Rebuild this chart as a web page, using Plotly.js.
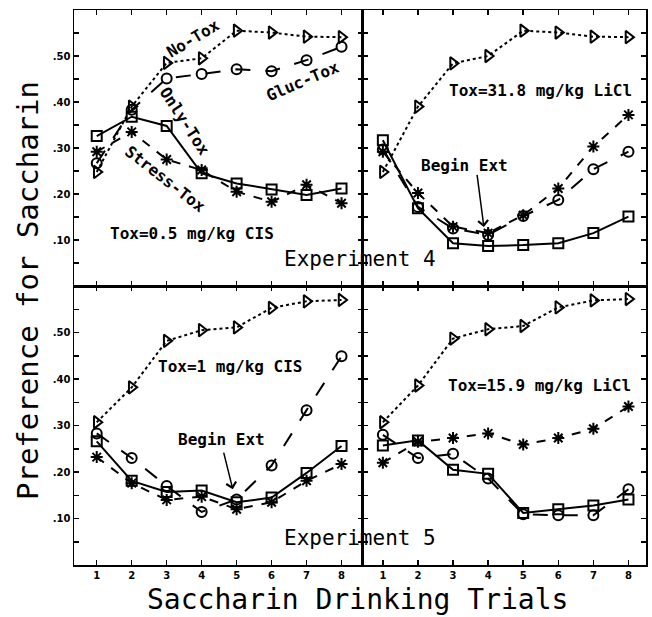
<!DOCTYPE html>
<html>
<head>
<meta charset="utf-8">
<script src="https://cdn.plot.ly/plotly-3.0.1.min.js"></script>
<style>html,body{margin:0;padding:0;background:#fff;}#chart{width:652px;height:617px;}</style>
</head>
<body>
<div id="chart"></div>
<script>
// ---- data ----
const trials = [1, 2, 3, 4, 5, 6, 7, 8];
const seriesNames = ['No-Tox', 'Gluc-Tox', 'Only-Tox', 'Stress-Tox'];

// Experiment 4, Tox = 0.5 mg/kg CIS (top left)
const e4cisNoTox  = [0.248, 0.390, 0.485, 0.495, 0.555, 0.551, 0.542, 0.541];
const e4cisGluc   = [0.267, 0.383, 0.451, 0.461, 0.471, 0.467, 0.491, 0.520];
const e4cisOnly   = [0.326, 0.368, 0.348, 0.245, 0.223, 0.210, 0.198, 0.212];
const e4cisStress = [0.292, 0.335, 0.275, 0.252, 0.205, 0.183, 0.220, 0.180];

// Experiment 4, Tox = 31.8 mg/kg LiCl (top right)
const e4liNoTox  = [0.248, 0.390, 0.484, 0.500, 0.555, 0.551, 0.542, 0.541];
const e4liGluc   = [0.297, 0.172, 0.125, 0.111, 0.152, 0.187, 0.254, 0.292];
const e4liOnly   = [0.317, 0.169, 0.093, 0.087, 0.089, 0.093, 0.115, 0.151];
const e4liStress = [0.292, 0.202, 0.129, 0.115, 0.154, 0.212, 0.303, 0.372];

// Experiment 5, Tox = 1 mg/kg CIS (bottom left)
const e5cisNoTox  = [0.307, 0.382, 0.482, 0.505, 0.511, 0.553, 0.567, 0.570];
const e5cisGluc   = [0.283, 0.230, 0.170, 0.114, 0.141, 0.214, 0.333, 0.449];
const e5cisOnly   = [0.266, 0.181, 0.157, 0.160, 0.135, 0.145, 0.198, 0.256];
const e5cisStress = [0.232, 0.176, 0.140, 0.147, 0.120, 0.135, 0.181, 0.217];

// Experiment 5, Tox = 15.9 mg/kg LiCl (bottom right)
const e5liNoTox  = [0.307, 0.386, 0.487, 0.507, 0.514, 0.554, 0.569, 0.572];
const e5liGluc   = [0.280, 0.230, 0.239, 0.186, 0.109, 0.107, 0.107, 0.163];
const e5liOnly   = [0.257, 0.268, 0.205, 0.196, 0.112, 0.120, 0.128, 0.141];
const e5liStress = [0.220, 0.265, 0.273, 0.283, 0.259, 0.273, 0.293, 0.341];

const yTickVals = [0.05, 0.10, 0.15, 0.20, 0.25, 0.30, 0.35, 0.40, 0.45, 0.50, 0.55];
const yTickText = ['', '.10', '', '.20', '', '.30', '', '.40', '', '.50', ''];
const xTickText = ['1', '2', '3', '4', '5', '6', '7', '8'];

// ---- styles ----
const styles = [
  {dash: 'dot',      symbol: 'triangle-right-open', size: 11},
  {dash: 'longdash', symbol: 'circle-open',         size: 10},
  {dash: 'solid',    symbol: 'square-open',         size: 10},
  {dash: 'dash',     symbol: 'asterisk-open',       size: 10}
];

const panels = [
  {xa: 'x',  ya: 'y',  data: [e4cisNoTox, e4cisGluc, e4cisOnly, e4cisStress]},
  {xa: 'x2', ya: 'y2', data: [e4liNoTox,  e4liGluc,  e4liOnly,  e4liStress]},
  {xa: 'x3', ya: 'y3', data: [e5cisNoTox, e5cisGluc, e5cisOnly, e5cisStress]},
  {xa: 'x4', ya: 'y4', data: [e5liNoTox,  e5liGluc,  e5liOnly,  e5liStress]}
];

const traces = [];
panels.forEach(p => {
  p.data.forEach((vals, i) => {
    traces.push({
      x: trials, y: vals, xaxis: p.xa, yaxis: p.ya,
      type: 'scatter', mode: 'lines+markers', name: seriesNames[i],
      showlegend: false, cliponaxis: false,
      line: {color: '#000', width: 2, dash: styles[i].dash},
      marker: {symbol: styles[i].symbol, size: styles[i].size, color: '#000',
               line: {color: '#000', width: 2}}
    });
  });
});

const mono = 'DejaVu Sans Mono, monospace';
const tickFont = {family: 'DejaVu Sans, sans-serif', size: 10, color: '#000', weight: 'bold'};
const split = 0.5044;
const ysplit = 0.5027;

function xAxis(domain, anchor, labels, range) {
  return {
    domain: domain, anchor: anchor, range: range,
    tickvals: trials, ticktext: xTickText, showticklabels: labels,
    ticks: 'inside', ticklen: 5, tickwidth: 1.5, tickcolor: '#000',
    showline: true, linecolor: '#000', linewidth: 1.5, mirror: 'ticks',
    showgrid: false, zeroline: false, tickfont: tickFont
  };
}
function yAxis(domain, anchor, labels) {
  return {
    domain: domain, anchor: anchor, range: [0, 0.6],
    tickvals: yTickVals, ticktext: yTickText, showticklabels: labels,
    ticks: 'inside', ticklen: 5, tickwidth: 1.5, tickcolor: '#000',
    showline: true, linecolor: '#000', linewidth: 1.5, mirror: 'ticks',
    showgrid: false, zeroline: false, tickfont: tickFont
  };
}

const lab = {family: mono, size: 16, color: '#000', weight: 'bold'};
function ann(text, x, y, xref, yref, angle, font) {
  return {text: text, x: x, y: y, xref: xref, yref: yref, showarrow: false,
          textangle: angle || 0, font: font || lab, xanchor: 'center', yanchor: 'middle'};
}
function arrow(x, y, ax, ay, xref, yref) {
  return {text: '', x: x, y: y, ax: ax, ay: ay, xref: xref, yref: yref,
          axref: xref, ayref: yref, showarrow: true, arrowhead: 4, arrowsize: 1.3,
          arrowwidth: 1.5, arrowcolor: '#000', standoff: 0, startstandoff: 0};
}

const layout = {
  width: 652, height: 617,
  margin: {l: 74, r: 6, t: 10, b: 52},
  paper_bgcolor: '#fff', plot_bgcolor: '#fff',
  showlegend: false,
  xaxis:  xAxis([0, split], 'y',  false, [0.35, 8.6]),
  xaxis2: xAxis([split, 1], 'y2', false, [0.42, 8.5]),
  xaxis3: xAxis([0, split], 'y3', true,  [0.35, 8.6]),
  xaxis4: xAxis([split, 1], 'y4', true,  [0.42, 8.5]),
  yaxis:  yAxis([ysplit, 1], 'x',  true),
  yaxis2: yAxis([ysplit, 1], 'x2', false),
  yaxis3: yAxis([0, ysplit], 'x3', true),
  yaxis4: yAxis([0, ysplit], 'x4', false),
  annotations: [
    ann('No-Tox', 3.75, 0.538, 'x', 'y', -31),
    ann('Gluc-Tox', 6.87, 0.445, 'x', 'y', -23),
    ann('Only-Tox', 3.5, 0.359, 'x', 'y', 57),
    ann('Stress-Tox', 2.98, 0.232, 'x', 'y', 38),
    ann('Tox=0.5 mg/kg CIS', 3.71, 0.115, 'x', 'y'),
    ann('Tox=31.8 mg/kg LiCl', 5.5, 0.426, 'x2', 'y2'),
    ann('Begin Ext', 3.34, 0.263, 'x2', 'y2'),
    arrow(3.88, 0.128, 3.68, 0.245, 'x2', 'y2'),
    ann('Tox=1 mg/kg CIS', 4.82, 0.426, 'x3', 'y3'),
    ann('Begin Ext', 4.56, 0.270, 'x3', 'y3'),
    arrow(4.89, 0.163, 4.62, 0.245, 'x3', 'y3'),
    ann('Tox=15.9 mg/kg LiCl', 5.47, 0.387, 'x4', 'y4'),
    ann('Experiment 4', 0.5, 0.551, 'paper', 'paper', 0, {family: mono, size: 21, color: '#000'}),
    ann('Experiment 5', 0.5, 0.0486, 'paper', 'paper', 0, {family: mono, size: 21, color: '#000'}),
    ann('Preference for Saccharin', -0.0804, 0.4937, 'paper', 'paper', -90, {family: mono, size: 29, color: '#000'}),
    ann('Saccharin Drinking Trials', 0.4948, -0.0625, 'paper', 'paper', 0, {family: mono, size: 28, color: '#000'})
  ]
};

Plotly.newPlot('chart', traces, layout, {staticPlot: true, displayModeBar: false});
</script>
</body>
</html>
